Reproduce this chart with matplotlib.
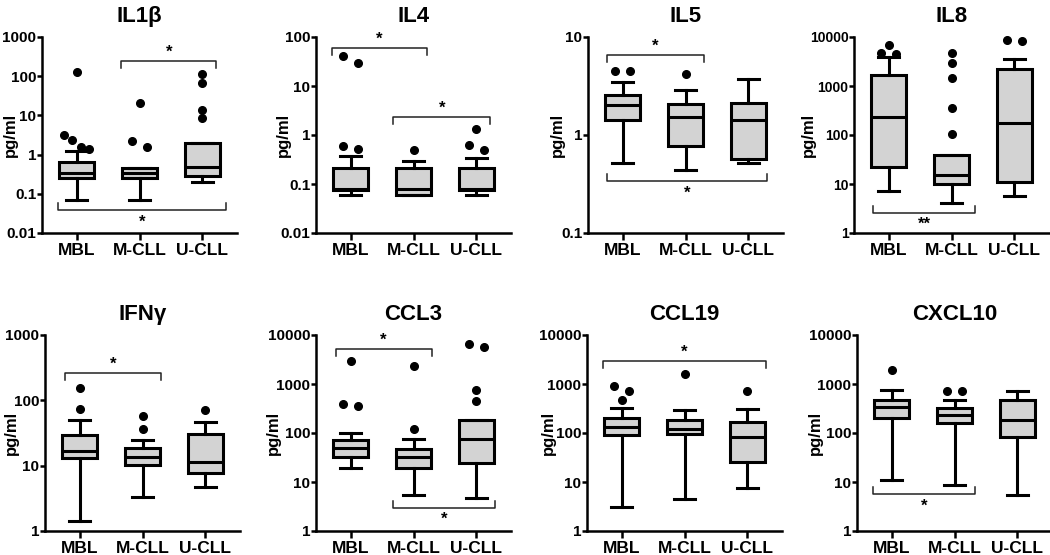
import matplotlib
matplotlib.use("Agg")
import matplotlib.pyplot as plt
from matplotlib.ticker import LogLocator, NullLocator, FuncFormatter
import numpy as np

plt.rcParams['font.family'] = ['Liberation Sans', 'DejaVu Sans']
plt.rcParams['font.weight'] = 'bold'

groups = ["MBL", "M-CLL", "U-CLL"]

# box stats per group: whisker low, q1, median, q3, whisker high
il1b_box = [[0.068, 0.25, 0.34, 0.65, 1.2], [0.068, 0.25, 0.33, 0.46, 0.46], [0.2, 0.28, 0.48, 2.0, 2.0]]
il1b_out = [[125, 3.2, 2.3, 1.6, 1.4], [20.7, 2.2, 1.6], [116, 69, 14, 8.5]]
il4_box = [[0.059, 0.074, 0.078, 0.21, 0.37], [0.059, 0.059, 0.079, 0.21, 0.29], [0.059, 0.074, 0.078, 0.21, 0.34]]
il4_out = [[41, 30, 0.6, 0.53], [0.49], [1.34, 0.62, 0.49]]
il5_box = [[0.52, 1.42, 2.0, 2.55, 3.47], [0.44, 0.77, 1.53, 2.05, 2.87], [0.52, 0.57, 1.42, 2.1, 3.7]]
il5_out = [[4.5, 4.5], [4.15], []]
il8_box = [[7.1, 22, 235, 1645, 3960], [4.0, 10.2, 15.6, 39, 39], [5.6, 10.9, 172, 2250, 3600]]
il8_out = [[7000, 4700, 4500], [4800, 2900, 1430, 359, 107], [8500, 8300]]
ifng_box = [[1.42, 13, 16.9, 29.3, 50], [3.3, 10.3, 13.6, 18.5, 24.5], [4.7, 7.66, 11.4, 30.3, 47]]
ifng_out = [[152, 73], [56.6, 37], [70.8]]
ccl3_box = [[19, 33, 49, 71, 102], [5.36, 19, 32.6, 46.6, 75], [4.65, 25, 75, 183, 183]]
ccl3_out = [[2900, 390, 348], [2360, 120], [6550, 5600, 763, 455]]
ccl19_box = [[3.14, 92, 134, 207, 317], [4.44, 95, 120, 186, 293], [7.7, 25.8, 83.5, 169, 307]]
ccl19_out = [[920, 728, 476], [1600], [705]]
cxcl10_box = [[10.9, 198, 343, 469, 752], [8.7, 159, 235, 317, 469], [5.36, 81, 186, 476, 705]]
cxcl10_out = [[1925], [728, 728], []]

# significance brackets: x start, x end, y, direction of ends, label
il1b_sig = [(1.71, 3.22, 240, 'down', '*'), (0.70, 3.38, 0.038, 'up', '*')]
il4_sig = [(0.70, 2.22, 60, 'down', '*'), (1.68, 3.22, 2.3, 'down', '*')]
il5_sig = [(0.75, 2.30, 6.5, 'down', '*'), (0.75, 3.30, 0.337, 'up', '*')]
il8_sig = [(0.75, 2.38, 2.57, 'up', '**')]
ifng_sig = [(0.76, 2.30, 258, 'down', '*')]
ccl3_sig = [(0.76, 2.29, 5170, 'down', '*'), (1.67, 3.30, 3.0, 'up', '*')]
ccl19_sig = [(0.70, 3.30, 2900, 'down', '*')]
cxcl10_sig = [(0.70, 2.33, 5.6, 'up', '*')]

panels = [
    ("IL1\u03b2", il1b_box, il1b_out, il1b_sig, (0.01, 1000)),
    ("IL4", il4_box, il4_out, il4_sig, (0.01, 100)),
    ("IL5", il5_box, il5_out, il5_sig, (0.1, 10)),
    ("IL8", il8_box, il8_out, il8_sig, (1, 10000)),
    ("IFN\u03b3", ifng_box, ifng_out, ifng_sig, (1, 1000)),
    ("CCL3", ccl3_box, ccl3_out, ccl3_sig, (1, 10000)),
    ("CCL19", ccl19_box, ccl19_out, ccl19_sig, (1, 10000)),
    ("CXCL10", cxcl10_box, cxcl10_out, cxcl10_sig, (1, 10000)),
]

W, H = 1050, 555
fig = plt.figure(figsize=(W / 100, H / 100), dpi=100)

lefts = [42, 316, 588, 854, 45, 316, 587, 857]
bottoms = [233, 233, 233, 233, 531, 531, 531, 531]
ylab_off = [-24, -25, -23, -38, -26, -35, -31, -34]
ytick_size = [11, 11, 11, 10, 11, 11, 11, 11]
aw, ah = 195, 196


def spread(vals, ndec):
    # put outliers that sit close together side by side, like Prism does
    vals = sorted(vals, reverse=True)
    offs = []
    i = 0
    while i < len(vals):
        j = i
        while j + 1 < len(vals) and (np.log10(vals[j]) - np.log10(vals[j + 1])) / ndec < 0.04:
            j += 1
        n = j - i + 1
        step = 0.24 if n < 3 else 0.4 / (n - 1)
        offs += list((np.arange(n) - (n - 1) / 2) * step)
        i = j + 1
    return vals, offs


for k, (name, box, out, sig, lim) in enumerate(panels):
    ax = fig.add_axes([lefts[k] / W, (H - bottoms[k]) / H, aw / W, ah / H])
    stats = []
    for b in box:
        stats.append(dict(whislo=b[0], q1=b[1], med=b[2], q3=b[3], whishi=b[4], fliers=[]))
    lw = 2.2
    ax.bxp(stats, positions=[1, 2, 3], widths=0.55, capwidths=0.33, patch_artist=True,
           showfliers=False,
           boxprops=dict(facecolor='#d3d3d3', edgecolor='black', linewidth=lw),
           medianprops=dict(color='black', linewidth=lw),
           whiskerprops=dict(color='black', linewidth=lw),
           capprops=dict(color='black', linewidth=lw))
    ndec = np.log10(lim[1]) - np.log10(lim[0])
    for g, vals in enumerate(out):
        if not vals:
            continue
        v, o = spread(vals, ndec)
        ax.plot(np.array(o) + g + 1, v, 'o', color='black', ms=5.5, clip_on=False)

    for x0, x1, y, d, lab in sig:
        tick = 10 ** (0.035 * ndec)
        ty = y / tick if d == 'down' else y * tick
        ax.plot([x0, x0, x1, x1], [ty, y, y, ty], color='#222222', lw=1.1)
        if d == 'down':
            ax.annotate(lab, ((x0 + x1) / 2, y), xytext=(0, 1), textcoords='offset points',
                        ha='center', va='bottom', fontsize=12)
        else:
            ax.annotate(lab, ((x0 + x1) / 2, y), xytext=(0, -3), textcoords='offset points',
                        ha='center', va='top', fontsize=12)

    ax.set_yscale('log')
    ax.set_ylim(lim)
    ax.set_xlim(0.45, 3.55)
    ax.yaxis.set_major_locator(LogLocator(base=10))
    ax.yaxis.set_minor_locator(NullLocator())
    ax.yaxis.set_major_formatter(FuncFormatter(lambda v, p: f"{v:g}"))
    ax.set_xticks([1, 2, 3])
    ax.set_xticklabels(groups)
    for s in ['top', 'right']:
        ax.spines[s].set_visible(False)
    for s in ['left', 'bottom']:
        ax.spines[s].set_linewidth(1.8)
    ax.tick_params(axis='both', width=1.8, direction='out')
    ax.tick_params(axis='y', length=3.5, labelsize=ytick_size[k], pad=0.5)
    ax.tick_params(axis='x', length=5, labelsize=12.5, pad=2)
    ax.set_ylabel("pg/ml", fontsize=12, fontweight='bold')
    ax.yaxis.set_label_coords(ylab_off[k] / aw, 0.5)
    ax.set_title(name, fontsize=16, fontweight='bold', pad=11)

fig.savefig("out.png", dpi=100)
